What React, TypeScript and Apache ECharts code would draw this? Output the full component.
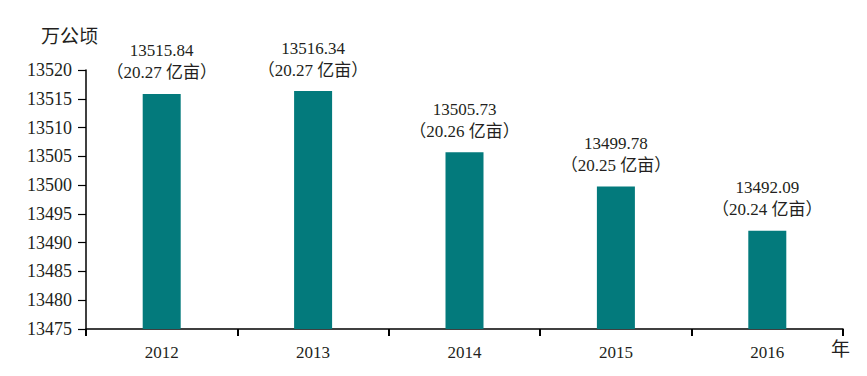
import React, { useEffect, useRef } from "react";
import * as echarts from "echarts";

const years = ["2012", "2013", "2014", "2015", "2016"];
const hectares = [13515.84, 13516.34, 13505.73, 13499.78, 13492.09];
const mu = ["20.27", "20.27", "20.26", "20.25", "20.24"];
const yTicks = { min: 13475, max: 13520, interval: 5 };

const FONT = "'Liberation Serif', 'Noto Sans CJK SC', serif";
const TEXT = "#231f20";

export default function App() {
  const ref = useRef<HTMLDivElement>(null);
  useEffect(() => {
    if (!ref.current) return;
    const chart = echarts.init(ref.current, undefined, { renderer: "svg" });
    chart.setOption({
      animation: false,
      backgroundColor: "#ffffff",
      grid: { left: 86, right: 24, top: 70, bottom: 47 },
      graphic: [
        {
          type: "text",
          left: 41,
          top: 27,
          style: { text: "万公顷", font: `19px ${FONT}`, fill: TEXT },
        },
        {
          type: "text",
          left: 831,
          top: 340,
          style: { text: "年", font: `19px ${FONT}`, fill: TEXT },
        },
      ],
      xAxis: {
        type: "category",
        data: years,
        boundaryGap: true,
        axisLine: { lineStyle: { color: "#000", width: 1.5 } },
        axisTick: { show: true, length: 7, inside: false, lineStyle: { color: "#000", width: 2 } },
        axisLabel: { color: TEXT, fontFamily: FONT, fontSize: 17, margin: 15 },
      },
      yAxis: {
        type: "value",
        min: yTicks.min,
        max: yTicks.max,
        interval: yTicks.interval,
        splitLine: { show: false },
        axisLine: { show: true, lineStyle: { color: "#000", width: 1.5 } },
        axisTick: { show: true, length: 8, lineStyle: { color: "#000", width: 1.2 } },
        axisLabel: {
          color: TEXT,
          fontFamily: FONT,
          fontSize: 18,
          margin: 14,
          formatter: (v: number) => String(v),
        },
      },
      series: [
        {
          type: "bar",
          data: hectares,
          barWidth: 38,
          itemStyle: { color: "#037a7c" },
          label: {
            show: true,
            position: "top",
            distance: 10,
            color: TEXT,
            fontFamily: FONT,
            fontSize: 17,
            lineHeight: 22,
            formatter: (p: any) => `${hectares[p.dataIndex].toFixed(2)}\n（${mu[p.dataIndex]} 亿亩）`,
          },
        },
      ],
    });
    return () => chart.dispose();
  }, []);
  return <div ref={ref} style={{ width: 867, height: 376, position: "absolute", left: 0, top: 0 }} />;
}
